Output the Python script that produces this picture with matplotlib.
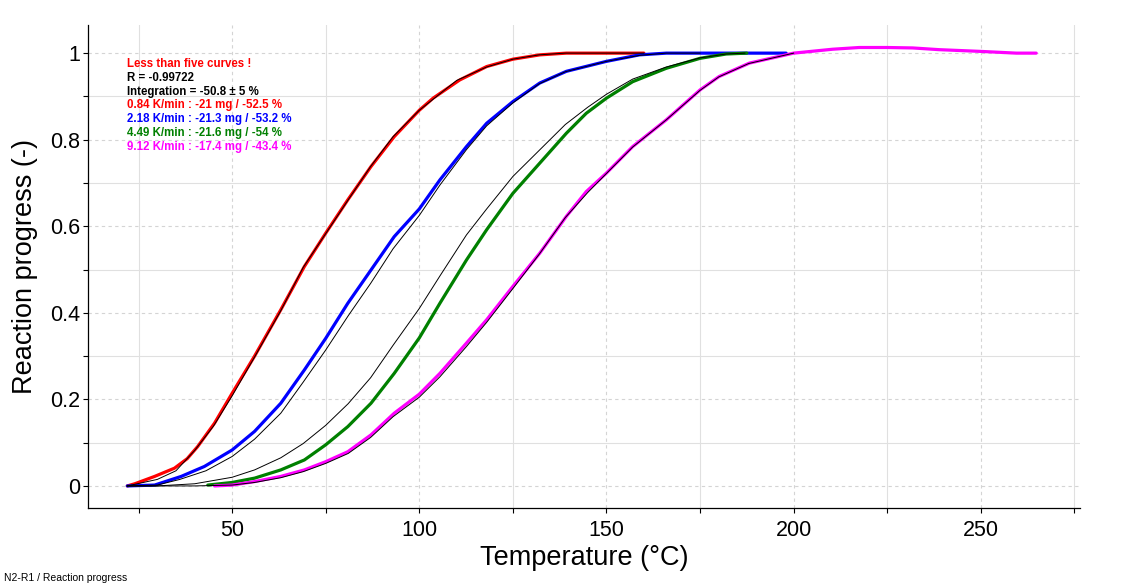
import matplotlib
matplotlib.use("Agg")
import matplotlib.pyplot as plt

plt.rcParams['font.family'] = ['Liberation Sans', 'DejaVu Sans']

# ---- measured data (Temperature in °C, reaction progress) ----
red_T = [22, 24, 29.3, 34.6, 38, 40.8, 45.3, 50, 56, 63, 69.3, 75, 80.9, 87.1, 93.3, 100, 103.7, 110.8, 118, 125, 132.2, 139.3, 150, 160]
red_y = [0.0, 0.005, 0.022, 0.041, 0.063, 0.091, 0.145, 0.214, 0.30, 0.407, 0.507, 0.584, 0.661, 0.738, 0.807, 0.868, 0.896, 0.938, 0.969, 0.986, 0.996, 1.0, 1.0, 1.0]

blue_T = [22, 29.3, 36.4, 42.6, 50, 56, 63, 69.3, 75, 80.9, 87.1, 93.3, 100, 105.5, 112.6, 118, 125, 132.2, 139.3, 150, 158.8, 166, 180, 198]
blue_y = [0.0, 0.002, 0.022, 0.045, 0.083, 0.126, 0.191, 0.268, 0.341, 0.422, 0.499, 0.576, 0.64, 0.707, 0.784, 0.838, 0.888, 0.931, 0.958, 0.981, 0.996, 1.0, 1.0, 1.0]

green_T = [43.5, 50, 56, 63, 69.3, 75, 80.9, 87.1, 93.3, 100, 105.5, 112.6, 118, 125, 132.2, 139.3, 144.6, 150, 157, 166, 175, 182, 187.5]
green_y = [0.002, 0.008, 0.018, 0.037, 0.06, 0.095, 0.137, 0.191, 0.26, 0.342, 0.422, 0.522, 0.592, 0.676, 0.746, 0.815, 0.861, 0.896, 0.934, 0.965, 0.988, 0.998, 1.0]

magenta_T = [45.3, 50, 56, 63, 69.3, 75, 80.9, 87.1, 93.3, 100, 105.5, 112.6, 118, 125, 132.2, 139.3, 144.6, 150, 157, 166, 175, 180.1, 188.2, 200, 210.4, 217.5, 225, 231.8, 238.9, 250, 259.5, 264.8]
magenta_y = [0.0, 0.002, 0.01, 0.022, 0.037, 0.056, 0.079, 0.118, 0.168, 0.212, 0.26, 0.33, 0.384, 0.461, 0.538, 0.623, 0.680, 0.723, 0.784, 0.846, 0.915, 0.946, 0.977, 1.0, 1.009, 1.013, 1.013, 1.012, 1.008, 1.004, 1.0, 1.0]

fit_red_T = [22, 30, 35, 40, 45, 50, 56, 63, 69, 75, 81, 87, 93, 100, 110, 118, 125, 132, 139, 150, 160]
fit_red_y = [0.0, 0.015, 0.035, 0.082, 0.138, 0.208, 0.298, 0.405, 0.505, 0.583, 0.661, 0.738, 0.807, 0.868, 0.937, 0.968, 0.986, 0.996, 1.0, 1.0, 1.0]

fit_blue_T = [22, 30, 36, 43, 50, 56, 63, 69, 75, 81, 87, 93, 100, 105.5, 112.6, 118, 125, 132, 139, 150, 159, 166, 175]
fit_blue_y = [0.0, 0.002, 0.015, 0.035, 0.068, 0.108, 0.168, 0.240, 0.314, 0.393, 0.468, 0.548, 0.625, 0.695, 0.777, 0.832, 0.885, 0.929, 0.957, 0.981, 0.995, 1.0, 1.0]

fit_green_T = [22, 30, 40, 50, 56, 63, 69, 75, 81, 87, 93, 100, 105.5, 112.6, 118, 125, 132, 139, 145, 150, 157, 166, 175, 182, 187]
fit_green_y = [0.0, 0.0, 0.005, 0.02, 0.037, 0.065, 0.098, 0.14, 0.19, 0.25, 0.325, 0.41, 0.485, 0.58, 0.64, 0.715, 0.775, 0.835, 0.875, 0.905, 0.94, 0.968, 0.989, 0.998, 1.0]

fit_magenta_T = [22, 40, 50, 56, 63, 69, 75, 81, 87, 93, 100, 105.5, 112.6, 118, 125, 132, 139, 145, 150, 157, 166, 175, 180, 188, 200]
fit_magenta_y = [0.0, 0.0, 0.002, 0.008, 0.019, 0.033, 0.052, 0.075, 0.112, 0.160, 0.205, 0.252, 0.322, 0.378, 0.456, 0.535, 0.62, 0.678, 0.722, 0.783, 0.846, 0.914, 0.945, 0.976, 1.0]

info_lines = ["Less than five curves !", "R = -0.99722", "Integration = -50.8 \u00b1 5 %",
              "0.84 K/min : -21 mg / -52.5 %", "2.18 K/min : -21.3 mg / -53.2 %",
              "4.49 K/min : -21.6 mg / -54 %", "9.12 K/min : -17.4 mg / -43.4 %"]
info_colors = ["#ff0000", "black", "black", "#ff0000", "#0000ff", "#008000", "#ff00ff"]

x_major = [50, 100, 150, 200, 250]
x_minor = [25, 75, 125, 175, 225, 275]
y_major = [0, 0.2, 0.4, 0.6, 0.8, 1.0]
y_labels = ["0", "0.2", "0.4", "0.6", "0.8", "1"]
y_minor = [0.1, 0.3, 0.5, 0.7, 0.9]

# ---- figure ----
fig = plt.figure(figsize=(11.31, 5.86), dpi=100)
ax = fig.add_axes([88/1131, 78/586, (1080-88)/1131, (508-25)/586])

ax.set_xlim(11.5, 276.5)
ax.set_ylim(-0.051, 1.065)

ax.set_xticks(x_major)
ax.set_xticks(x_minor, minor=True)
ax.set_yticks(y_major)
ax.set_yticklabels(y_labels)
ax.set_yticks(y_minor, minor=True)

ax.grid(which='major', color='#d4d4d4', linestyle=(0, (3, 3)), linewidth=0.8)
ax.grid(which='minor', color='#e0e0e0', linestyle='-', linewidth=0.8)
ax.set_axisbelow(True)

for s in ['top', 'right']:
    ax.spines[s].set_visible(False)
for s in ['left', 'bottom']:
    ax.spines[s].set_linewidth(0.9)

ax.tick_params(which='both', direction='out', length=3.5, width=0.8, labelsize=15.5)
ax.tick_params(axis='y', which='major', pad=2)
ax.tick_params(axis='x', which='major', pad=5)

series = [(red_T, red_y, '#ff0000'), (blue_T, blue_y, '#0000ff'),
          (green_T, green_y, '#008000'), (magenta_T, magenta_y, '#ff00ff')]
for T, y, c in series:
    ax.plot(T, y, color=c, linewidth=2.3, solid_capstyle='round', solid_joinstyle='round')

for T, y in [(fit_red_T, fit_red_y), (fit_blue_T, fit_blue_y),
             (fit_green_T, fit_green_y), (fit_magenta_T, fit_magenta_y)]:
    ax.plot(T, y, color='black', linewidth=0.7)

ax.set_xlabel("Temperature (\u00b0C)", fontsize=19.5, labelpad=3)
ax.set_ylabel("Reaction progress (-)", fontsize=19.5, labelpad=9)

for i, (t, c) in enumerate(zip(info_lines, info_colors)):
    fig.text(127/1131, 1 - (64 + i*13.8)/586, t, color=c, fontsize=8.3,
             fontweight='bold', va='center', ha='left')

fig.text(4/1131, 1 - 578/586, "N2-R1 / Reaction progress", fontsize=7.5,
         va='center', ha='left', color='black')

fig.savefig("out.png", dpi=100)
